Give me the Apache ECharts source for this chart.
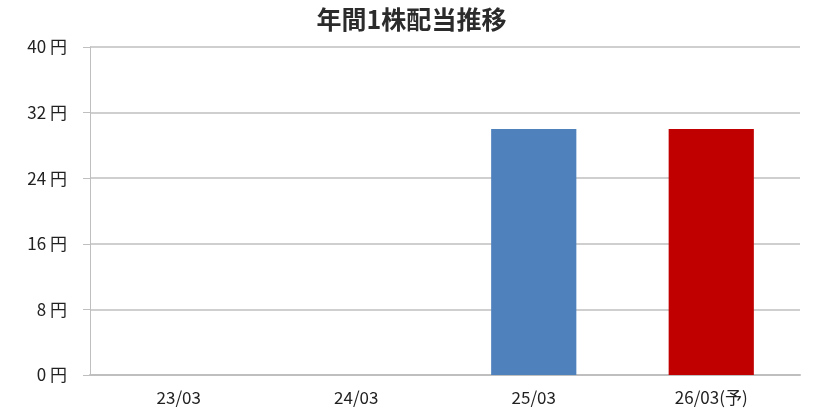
<!DOCTYPE html>
<html>
<head>
<meta charset="utf-8">
<script src="https://cdn.jsdelivr.net/npm/echarts@6/dist/echarts.min.js"></script>
<style>
  html, body { margin: 0; padding: 0; background: #fff; }
  #chart { width: 823px; height: 414px; }
</style>
</head>
<body>
<div id="chart"></div>
<script>
// 年間1株配当の推移
var categories = ['23/03', '24/03', '25/03', '26/03(予)'];
var dividends = [0, 0, 30, 30];
var barColors = ['#4F81BD', '#4F81BD', '#4F81BD', '#C00000'];
var yTicks = [0, 8, 16, 24, 32, 40];

var chart = echarts.init(document.getElementById('chart'));
var font = '"Noto Sans CJK JP", "Noto Sans", sans-serif';

var option = {
    animation: false,
    title: {
        text: '年間1株配当推移',
        left: 'center',
        top: 2,
        textStyle: { fontFamily: font, fontSize: 25, fontWeight: 'bold', color: '#2b2b2b' }
    },
    grid: { left: 90, right: 23, top: 47, bottom: 39 },
    xAxis: {
        type: 'category',
        data: categories,
        axisLine: { lineStyle: { color: '#bfbfbf', width: 2 } },
        axisTick: { inside: true, length: 12, lineStyle: { color: '#bfbfbf' } },
        axisLabel: { fontFamily: font, fontSize: 17, color: '#222', margin: 14 }
    },
    yAxis: {
        type: 'value',
        min: yTicks[0],
        max: yTicks[yTicks.length - 1],
        interval: yTicks[1] - yTicks[0],
        axisLine: { show: true, lineStyle: { color: '#bfbfbf' } },
        axisTick: { show: true, length: 7, lineStyle: { color: '#bfbfbf' } },
        splitLine: { lineStyle: { color: '#cfcfcf', width: 2 } },
        axisLabel: {
            fontFamily: font, fontSize: 17, color: '#222', margin: 23,
            formatter: function (v) { return v + ' 円'; }
        }
    },
    series: [{
        type: 'bar',
        barWidth: '48%',
        data: dividends.map(function (v, i) {
            return { value: v, itemStyle: { color: barColors[i] } };
        })
    }]
};
chart.setOption(option);
</script>
</body>
</html>
